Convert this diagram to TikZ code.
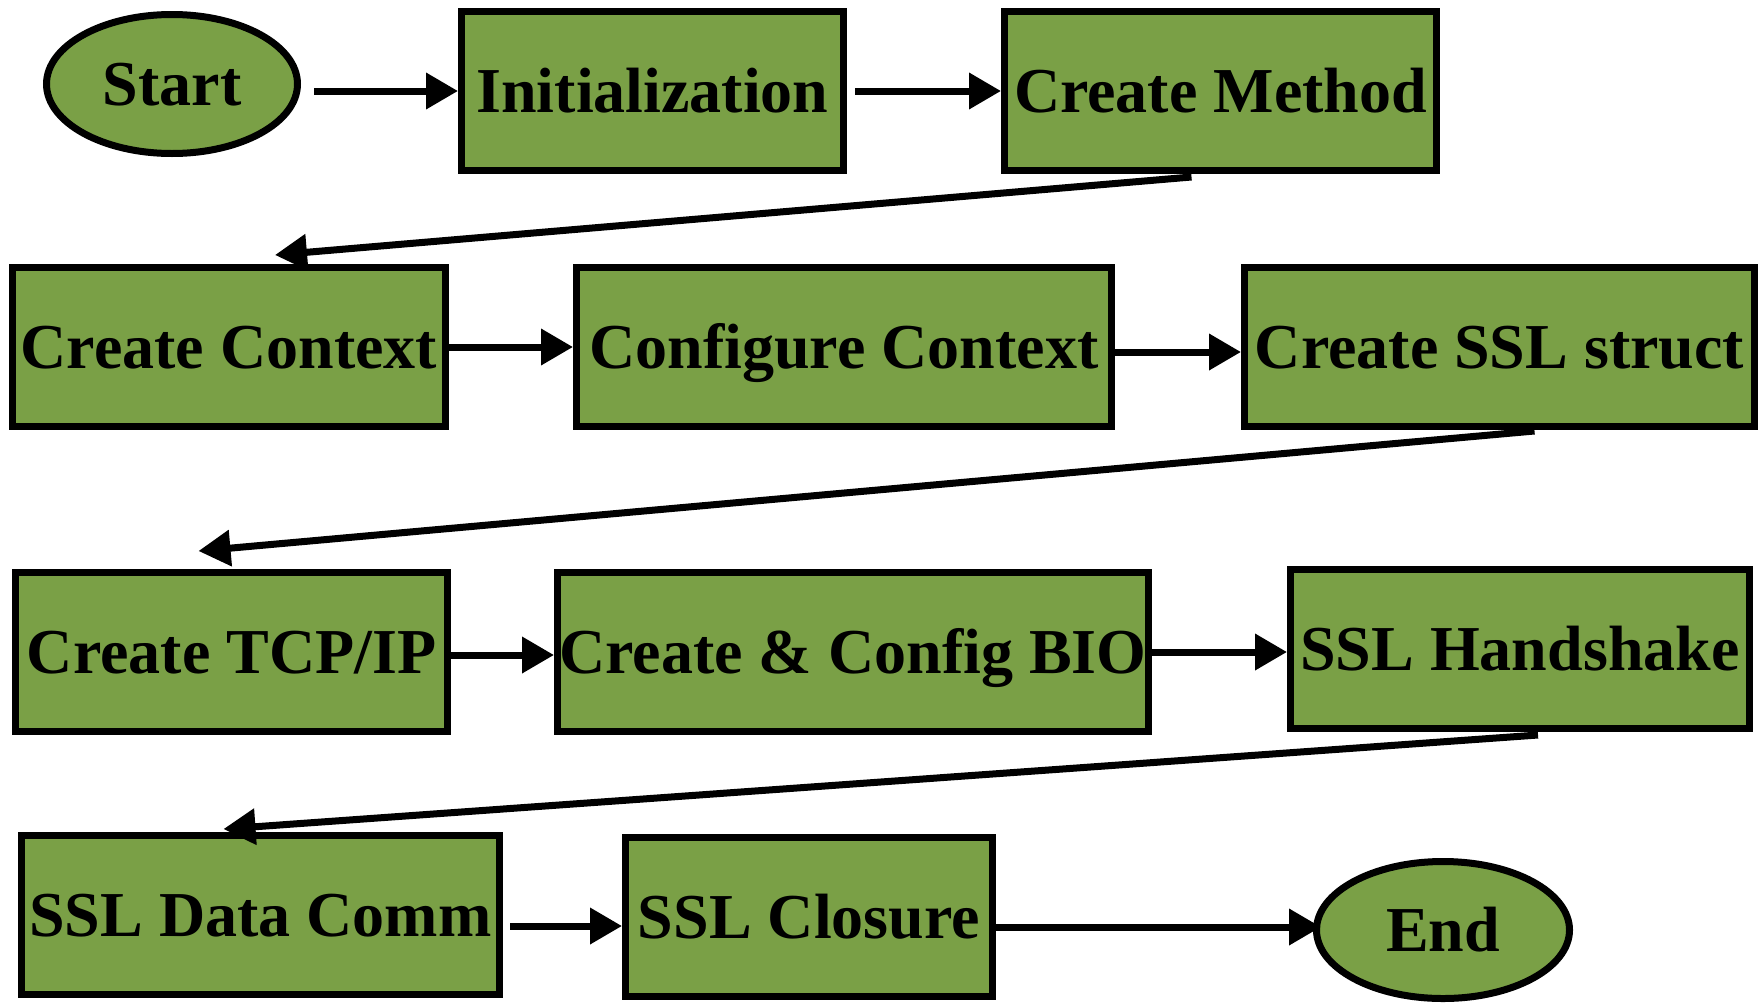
\documentclass[tikz,border=0pt]{standalone}
\usepackage{fontspec}
\setmainfont{Liberation Serif}
\usetikzlibrary{arrows.meta,shapes.geometric}
\definecolor{boxgreen}{RGB}{122,160,70}
\begin{document}
\begin{tikzpicture}[x=1pt,y=-1pt,
  every node/.style={font=\fontsize{64}{70}\selectfont\bfseries, inner sep=0pt,
    text height=42pt, text depth=0pt},
  stepbox/.style={rectangle, draw=black, line width=7pt, fill=boxgreen},
  term/.style={ellipse, draw=black, line width=7pt, fill=boxgreen},
  arr/.style={draw=black, line width=7pt, -{Triangle[length=32pt,width=35pt]}}]
\useasboundingbox (0,0) rectangle (1763,1004);

% row 1
\node[term, minimum width=251pt, minimum height=139pt] (start) at (172,84) {Start};
\node[stepbox, minimum width=382pt, minimum height=159pt] (init) at (652.5,91) {Initialization};
\node[stepbox, minimum width=432pt, minimum height=159pt] (cm) at (1220.5,91) {Create Method};

% row 2
\node[stepbox, minimum width=433pt, minimum height=159pt] (cc) at (229,347) {Create Context};
\node[stepbox, minimum width=535pt, minimum height=159pt] (cfg) at (844,347) {Configure Context};
\node[stepbox, minimum width=510pt, minimum height=159pt] (ssls) at (1499.5,347) {Create SSL struct};

% row 3
\node[stepbox, minimum width=432pt, minimum height=159pt] (tcp) at (231.5,652) {Create TCP/IP};
\node[stepbox, minimum width=591pt, minimum height=159pt] (bio) at (853,652) {Create \& Config BIO};
\node[stepbox, minimum width=459pt, minimum height=159pt] (sslh) at (1520,649) {SSL Handshake};

% row 4
\node[stepbox, minimum width=478pt, minimum height=159pt] (sdc) at (260.5,915) {SSL Data Comm};
\node[stepbox, minimum width=367pt, minimum height=159pt] (sc) at (809,917) {SSL Closure};
\node[term, minimum width=253pt, minimum height=137pt] (end) at (1443,930) {End};

% connectors
\draw[arr, shorten <=13pt] (start.east |- init.west) -- (init.west);
\draw[arr, shorten <=8pt] (init.east) -- (cm.west);
\draw[arr] ([xshift=-29pt,yshift=-3pt]cm.south) -- ([xshift=46pt,yshift=9pt]cc.north);

\draw[arr] (cc.east) -- (cfg.west);
\draw[arr] ([yshift=-5pt]cfg.east) -- ([yshift=-5pt]ssls.west);
\draw[arr] ([xshift=35pt,yshift=-1pt]ssls.south) -- ([xshift=-33pt,yshift=18pt]tcp.north);

\draw[arr] ([yshift=-3pt]tcp.east) -- ([yshift=-3pt]bio.west);
\draw[arr] (bio.east) -- (bio.east -| sslh.west);
\draw[arr] ([xshift=18pt,yshift=-3pt]sslh.south) -- ([xshift=-37pt,yshift=3pt]sdc.north);

\draw[arr, shorten <=7pt] ([yshift=-11pt]sdc.east) -- ([yshift=-9pt]sc.west);
\draw[arr, shorten >=-8pt] ([yshift=-10pt]sc.east) -- ([yshift=3pt]end.west);
\end{tikzpicture}
\end{document}
